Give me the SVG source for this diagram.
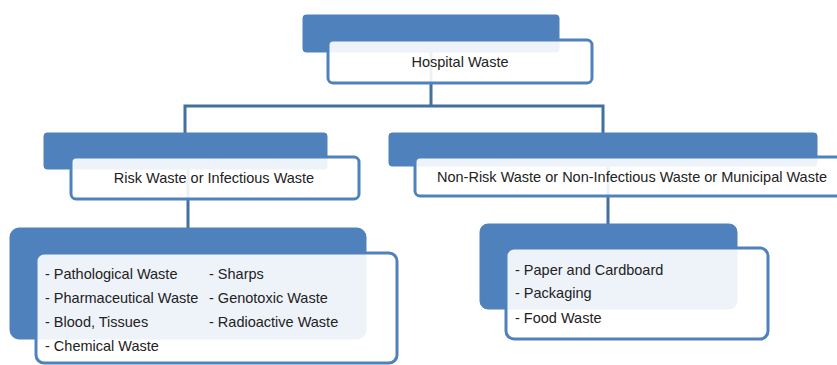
<svg xmlns="http://www.w3.org/2000/svg" width="837" height="365" viewBox="0 0 837 365">
<style>
.bg{fill:#4f81bd;stroke:#4f81bd;stroke-width:1}
.fg{fill:#ffffff;fill-opacity:0.9;stroke:#4f81bd;stroke-width:3}
.conn{fill:none;stroke:#41719c;stroke-width:3}
text{font-family:"Liberation Sans",Arial,sans-serif;font-size:14.5px;fill:#222222}
.c{text-anchor:middle}
</style>
<rect width="837" height="365" fill="#ffffff"/>
<g id="connectors">
<path class="conn" d="M431,52 V106"/>
<path class="conn" d="M185,133 V106 H603 V133"/>
<path class="conn" d="M188,169 V228"/>
<path class="conn" d="M608,166 V224"/>
</g>
<g id="hospital">
<rect class="bg" x="303" y="15" width="256" height="37" rx="3"/>
<rect class="fg" x="328" y="40" width="264" height="43" rx="5"/>
<text class="c" x="460" y="67">Hospital Waste</text>
</g>
<g id="risk">
<rect class="bg" x="44" y="133" width="283" height="36" rx="3"/>
<rect class="fg" x="71" y="157" width="288" height="42" rx="5"/>
<text class="c" x="214" y="183">Risk Waste or Infectious Waste</text>
</g>
<g id="nonrisk">
<rect class="bg" x="389" y="133" width="428" height="33" rx="3"/>
<rect class="fg" x="415" y="157" width="440" height="39" rx="5"/>
<text class="c" x="632" y="182">Non-Risk Waste or Non-Infectious Waste or Municipal Waste</text>
</g>
<g id="risk-items">
<rect class="bg" x="10" y="228" width="356" height="111" rx="9"/>
<rect class="fg" x="36" y="253" width="361" height="110" rx="8"/>
<text x="45" y="279">- Pathological Waste</text>
<text x="45" y="303">- Pharmaceutical Waste</text>
<text x="45" y="327">- Blood, Tissues</text>
<text x="45" y="351">- Chemical Waste</text>
<text x="209" y="279">- Sharps</text>
<text x="209" y="303">- Genotoxic Waste</text>
<text x="209" y="327">- Radioactive Waste</text>
</g>
<g id="nonrisk-items">
<rect class="bg" x="480" y="224" width="257" height="85" rx="8"/>
<rect class="fg" x="506" y="248" width="262" height="91" rx="8"/>
<text x="515" y="275">- Paper and Cardboard</text>
<text x="515" y="298">- Packaging</text>
<text x="515" y="323">- Food Waste</text>
</g>
</svg>
